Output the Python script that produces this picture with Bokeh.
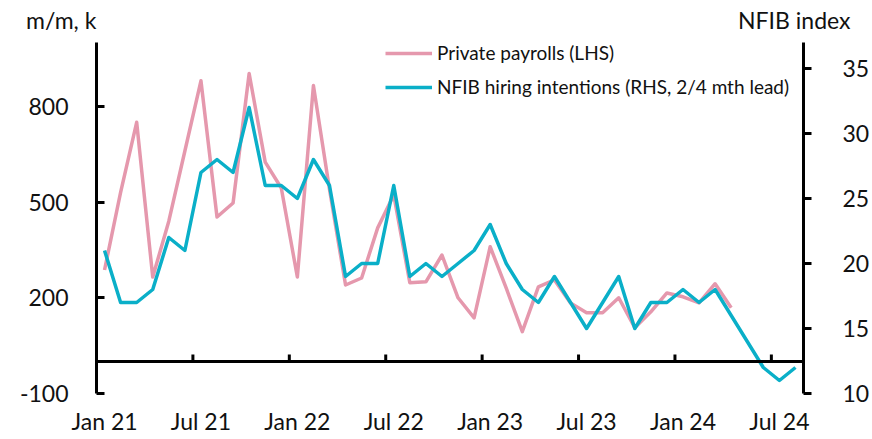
from bokeh.plotting import figure
from bokeh.layouts import column
from bokeh.models import (Range1d, LinearAxis, FixedTicker, Span, Legend,
                          LegendItem, Label)
from bokeh.embed import file_html
from bokeh.resources import INLINE

# ---------------- data ----------------
# monthly, Jan 21 .. Aug 24 (44 months)
month_labels = ["Jan 21", "Jul 21", "Jan 22", "Jul 22",
                "Jan 23", "Jul 23", "Jan 24", "Jul 24"]
label_month_index = [0, 6, 12, 18, 24, 30, 36, 42]

# Private payrolls, m/m change, thousands (Jan 21 .. Apr 24)
payrolls = [287, 530, 750, 265, 440, 660, 880, 453, 497, 903, 625, 544,
            265, 865, 540, 240, 262, 419, 522, 247, 250, 334, 200, 137,
            360, 230, 94, 234, 256, 184, 153, 153, 200, 106, 156, 215,
            203, 184, 244, 169]

# NFIB hiring intentions, led 2/4 months (Jan 21 .. Aug 24)
nfib = [21, 17, 17, 18, 22, 21, 27, 28, 27, 32, 26, 26,
        25, 28, 26, 19, 20, 20, 26, 19, 20, 19, 20, 21,
        23, 20, 18, 17, 19, 17, 15, 17, 19, 15, 17, 17,
        18, 17, 18, 16, 14, 12, 11, 12]

left_ticks = [-100, 200, 500, 800]
left_tick_labels = ["-100", "200", "500", "800"]
right_ticks = [10, 15, 20, 25, 30, 35]

left_title = "m/m, k"
right_title = "NFIB index"
series_names = ["Private payrolls (LHS)",
                "NFIB hiring intentions (RHS, 2/4 mth lead)"]

# ---------------- style ----------------
FONT = "Lato"
PINK = "#E598AD"
TEAL = "#0AAFC8"
TXT = "#111111"
W = 872

# header strip holding the two axis titles
hdr = figure(width=W, height=42, output_backend="svg", toolbar_location=None,
             x_range=Range1d(0, W), y_range=Range1d(0, 42),
             x_axis_type=None, y_axis_type=None,
             min_border=0, min_border_left=0, min_border_right=0,
             min_border_top=0, min_border_bottom=0)
hdr.frame_align = False
hdr.outline_line_color = None
hdr.grid.visible = False
hdr.add_layout(Label(x=25.5, y=23, text=left_title, text_align="left",
                     text_baseline="alphabetic", text_font=FONT,
                     text_font_size="23px", text_color=TXT))
hdr.add_layout(Label(x=850, y=23, text=right_title, text_align="right",
                     text_baseline="alphabetic", text_font=FONT,
                     text_font_size="23px", text_color=TXT))

p = figure(width=W, height=395, output_backend="svg", toolbar_location=None,
           x_range=Range1d(-0.5, 43.5), y_range=Range1d(-100, 1000),
           min_border_left=96, min_border_right=68, min_border_top=0,
           min_border_bottom=44)
p.frame_align = False
p.extra_y_ranges = {"r": Range1d(10, 37)}
p.outline_line_color = None
p.grid.visible = False
p.background_fill_color = "white"
p.border_fill_color = "white"

# left axis
ya = p.yaxis[0]
ya.ticker = FixedTicker(ticks=left_ticks)
ya.major_label_overrides = {t: s for t, s in zip(left_ticks, left_tick_labels)}
ya.axis_line_width = 3
ya.axis_line_color = "black"
ya.major_tick_line_width = 3
ya.major_tick_in = 8
ya.major_tick_out = 0
ya.minor_tick_line_color = None
ya.major_label_standoff = 28
ya.major_label_text_font = FONT
ya.major_label_text_font_size = "23px"
ya.major_label_text_color = TXT

# right axis
ra = LinearAxis(y_range_name="r", ticker=FixedTicker(ticks=right_ticks))
ra.axis_line_width = 3
ra.axis_line_color = "black"
ra.major_tick_line_width = 3
ra.major_tick_in = 0
ra.major_tick_out = 8
ra.minor_tick_line_color = None
ra.major_label_standoff = 31
ra.major_label_text_font = FONT
ra.major_label_text_font_size = "23px"
ra.major_label_text_color = TXT
p.add_layout(ra, "right")

# bottom axis (labels only; axis line drawn at zero)
xa = p.xaxis[0]
xa.ticker = FixedTicker(ticks=label_month_index)
xa.major_label_overrides = {i: t for i, t in zip(label_month_index, month_labels)}
xa.axis_line_color = None
xa.major_tick_line_color = None
xa.minor_tick_line_color = None
xa.major_label_standoff = 7
xa.major_label_text_font = FONT
xa.major_label_text_font_size = "23px"
xa.major_label_text_color = TXT

# zero line acting as category axis, with ticks at period boundaries
p.add_layout(Span(location=0, dimension="width", line_color="black",
                  line_width=3))
bounds = [i - 0.5 for i in label_month_index]
p.segment(x0=bounds, y0=[0] * len(bounds), x1=bounds, y1=[22] * len(bounds),
          line_color="black", line_width=3)

# series
r1 = p.line(x=list(range(len(payrolls))), y=payrolls, line_color=PINK,
            line_width=3.5, line_join="round")
r2 = p.line(x=list(range(len(nfib))), y=nfib, y_range_name="r",
            line_color=TEAL, line_width=3.5, line_join="round")

legend = Legend(items=[LegendItem(label=series_names[0], renderers=[r1]),
                       LegendItem(label=series_names[1], renderers=[r2])],
                location=(289, 295), orientation="vertical",
                glyph_width=47, glyph_height=20, label_standoff=5,
                spacing=11, padding=0, margin=0,
                border_line_color=None, background_fill_alpha=0,
                label_text_font=FONT, label_text_font_size="19px",
                label_text_color=TXT)
p.add_layout(legend, "center")

layout = column(hdr, p, spacing=0)
open("out.html", "w").write(file_html(layout, INLINE))
